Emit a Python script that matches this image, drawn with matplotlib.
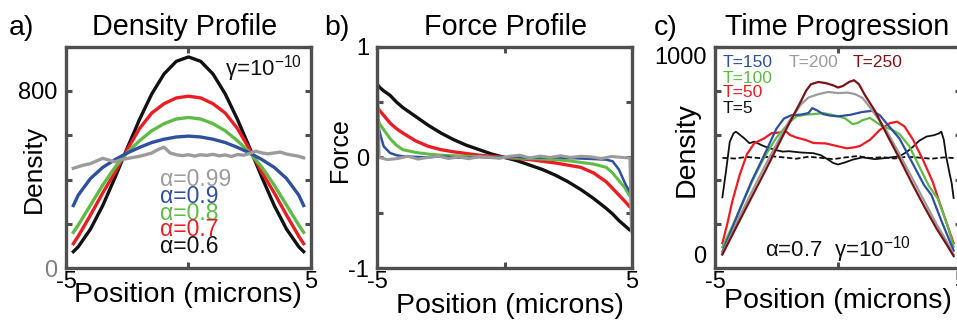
import matplotlib
matplotlib.use("Agg")
import matplotlib.pyplot as plt

W, H = 957, 320

# ---- panel a: density profiles for different alpha ----
xa = [-4.7, -4.5, -4.0, -3.5, -3.0, -2.5, -2.0, -1.5, -1.0, -0.5, 0.0,
      0.5, 1.0, 1.5, 2.0, 2.5, 3.0, 3.5, 4.0, 4.5, 4.7]
dens_06 = [75, 97, 177, 283, 409, 542, 671, 786, 876, 933, 953,
           933, 876, 786, 671, 542, 409, 283, 177, 97, 75]
dens_07 = [111, 145, 240, 340, 432, 535, 630, 700, 742, 768, 776,
           768, 742, 700, 630, 535, 432, 340, 240, 145, 111]
dens_08 = [162, 195, 285, 375, 455, 522, 575, 620, 652, 673, 680,
           673, 652, 620, 575, 522, 455, 375, 285, 195, 162]
dens_09 = [283, 330, 405, 455, 490, 520, 545, 567, 582, 592, 596,
           592, 582, 567, 545, 520, 490, 455, 405, 330, 283]
xa_noisy = [-4.7, -4.5, -4.25, -4.0, -3.75, -3.5, -3.25, -3.0, -2.75, -2.5,
            -2.25, -2.0, -1.75, -1.5, -1.25, -1.0, -0.75, -0.5, -0.25, 0.0,
            0.25, 0.5, 0.75, 1.0, 1.25, 1.5, 1.75, 2.0, 2.25, 2.5,
            2.75, 3.0, 3.25, 3.5, 3.75, 4.0, 4.25, 4.5, 4.7]
dens_099 = [451, 458, 466, 472, 484, 496, 488, 480, 490, 495,
            500, 505, 512, 520, 535, 546, 520, 512, 508, 512,
            506, 512, 509, 514, 507, 511, 504, 513, 510, 518,
            528, 520, 516, 520, 524, 515, 510, 505, 498]
alpha_labels = ["α=0.99", "α=0.9", "α=0.8", "α=0.7", "α=0.6"]

# ---- panel b: force profiles ----
xb = [-4.97, -4.9, -4.75, -4.5, -4.25, -4.0, -3.5, -3.0, -2.5, -2.0, -1.5,
      -1.0, -0.5, 0.0, 0.5, 1.0, 1.5, 2.0, 2.5, 3.0, 3.5, 4.0, 4.25, 4.5,
      4.75, 4.9, 4.97]
force_06 = [0.65, 0.63, 0.60, 0.56, 0.50, 0.45, 0.37, 0.29, 0.22, 0.16, 0.11,
            0.07, 0.03, 0.0, -0.03, -0.07, -0.11, -0.16, -0.22, -0.29, -0.37,
            -0.46, -0.51, -0.57, -0.62, -0.65, -0.66]
force_07 = [0.44, 0.42, 0.38, 0.31, 0.26, 0.22, 0.15, 0.10, 0.07, 0.05, 0.035,
            0.02, 0.01, 0.0, -0.01, -0.02, -0.035, -0.05, -0.07, -0.09, -0.14,
            -0.22, -0.28, -0.34, -0.40, -0.44, -0.45]
force_08 = [0.34, 0.30, 0.25, 0.17, 0.11, 0.07, 0.045, 0.03, 0.02, 0.015, 0.01,
            0.005, 0.0, 0.0, -0.005, -0.01, -0.015, -0.02, -0.03, -0.045, -0.06,
            -0.09, -0.14, -0.21, -0.28, -0.34, -0.36]
force_09 = [0.30, 0.22, 0.10, 0.04, 0.02, 0.01, 0.005, 0.0, 0.01, 0.0, -0.005,
            0.005, 0.0, 0.0, 0.005, -0.005, 0.0, 0.0, -0.005, -0.01, -0.015,
            -0.02, -0.035, -0.11, -0.24, -0.30, -0.33]
xb_noisy = [-4.99, -4.93, -4.6, -4.2, -3.8, -3.4, -3.0, -2.6, -2.2, -1.8, -1.4,
            -1.0, -0.6, -0.2, 0.2, 0.6, 1.0, 1.4, 1.8, 2.2, 2.6, 3.0, 3.4, 3.8,
            4.2, 4.6, 4.93, 4.99]
force_099 = [0.65, 0.0, -0.02, -0.01, 0.01, -0.015, 0.0, 0.012, -0.01, 0.005,
             -0.012, 0.008, 0.0, -0.008, 0.01, 0.02, -0.005, 0.012, 0.0, 0.015,
             0.0, 0.01, 0.005, -0.01, 0.008, 0.0, -0.005, -0.66]

# ---- panel c: time progression, alpha=0.7 ----
x_t250 = [-4.7, -4.0, -3.0, -2.0, -1.5, -1.3, -1.1, -0.8, -0.5, -0.2, 0.0, 0.2,
          0.45, 0.65, 0.85, 1.1, 1.5, 2.0, 2.5, 3.0, 3.5, 4.0, 4.4, 4.7]
d_t250 = [62, 215, 430, 650, 755, 800, 830, 840, 835, 825, 815, 822,
          840, 848, 830, 780, 710, 600, 495, 385, 280, 180, 110, 55]
x_t200 = [-4.7, -4.3, -4.0, -3.5, -3.0, -2.5, -2.0, -1.5, -1.2, -0.8, -0.4, 0.0,
          0.4, 0.7, 1.0, 1.3, 1.6, 2.0, 2.5, 3.0, 3.5, 4.0, 4.4, 4.7]
d_t200 = [68, 160, 235, 345, 455, 560, 660, 740, 770, 785, 795, 790,
          792, 785, 768, 725, 680, 615, 515, 410, 305, 200, 125, 62]
x_t150 = [-4.7, -4.3, -4.0, -3.5, -3.0, -2.5, -2.2, -1.9, -1.5, -1.2, -1.05,
          -0.85, -0.6, -0.3, 0.0, 0.5, 1.0, 1.4, 1.7, 2.0, 2.5, 3.0, 3.5, 3.8,
          4.2, 4.7]
d_t150 = [75, 180, 265, 395, 510, 630, 675, 690, 693, 700, 722,
          712, 695, 688, 685, 692, 705, 710, 690, 650, 585, 480, 375, 330,
          215, 80]
x_t100 = [-4.7, -4.3, -4.0, -3.5, -3.0, -2.5, -2.0, -1.7, -1.3, -1.0, -0.6,
          -0.3, 0.0, 0.3, 0.6, 0.8, 1.0, 1.3, 1.6, 1.8, 2.2, 2.5, 2.9, 3.3,
          3.7, 4.05, 4.4, 4.7]
d_t100 = [95, 190, 262, 390, 500, 590, 655, 685, 693, 695, 700,
          693, 686, 675, 650, 655, 668, 678, 655, 640, 625, 605, 550, 460,
          370, 315, 210, 98]
x_t50 = [-4.7, -4.5, -4.3, -4.0, -3.7, -3.4, -3.0, -2.7, -2.4, -2.1, -1.95,
         -1.7, -1.3, -1.0, -0.5, 0.0, 0.35, 0.7, 0.9, 1.3, 1.7, 2.1, 2.4, 2.7,
         3.05, 3.45, 3.85, 4.15, 4.42, 4.7]
d_t50 = [113, 200, 300, 420, 515, 564, 586, 609, 612, 616, 601,
         590, 578, 565, 563, 550, 541, 546, 552, 579, 624, 654, 661, 640,
         580, 490, 390, 290, 203, 113]
x_t5 = [-4.7, -4.55, -4.4, -4.25, -4.15, -4.0, -3.8, -3.6, -3.4, -3.2, -3.0,
        -2.6, -2.25, -2.0, -1.5, -1.0, -0.7, -0.4, -0.2, 0.0, 0.3, 0.6, 1.0,
        1.5, 2.0, 2.5, 2.8, 3.06, 3.3, 3.6, 3.9, 4.1, 4.2, 4.3, 4.4, 4.55,
        4.62, 4.7]
d_t5 = [320, 440, 570, 608, 616, 603, 585, 564, 571, 560, 550,
        535, 526, 528, 522, 519, 510, 490, 475, 468, 478, 490, 500,
        492, 498, 505, 525, 549, 575, 594, 600, 608, 616, 580, 503, 420,
        385, 317]
x_t0 = [-4.7, -4.2, -3.7, -3.2, -2.7, -2.2, -1.7, -1.2, -0.7, -0.2, 0.3, 0.8,
        1.3, 1.8, 2.3, 2.8, 3.3, 3.8, 4.3, 4.7]
d_t0 = [498, 495, 502, 497, 505, 500, 494, 503, 498, 492, 500, 506,
        497, 501, 495, 503, 499, 494, 500, 497]
time_labels = ["T=150", "T=200", "T=250", "T=100", "T=50", "T=5"]

BLACK = "#111111"
RED = "#ec1c24"
GREEN = "#5fbb46"
BLUE = "#2f4f9f"
GRAY = "#9b9b9b"
DARKRED = "#7b1315"
SPINE = "#4f4f4f"


def px(x, y):
    return x / W, 1 - y / H


def style_axes(ax, tick_size):
    for s in ax.spines.values():
        s.set_linewidth(2.4)
        s.set_color(SPINE)
    ax.tick_params(direction="in", length=4, width=2.2, color=SPINE,
                   top=True, right=True, labelsize=tick_size, pad=2)
    ax.tick_params(axis="y", pad=6)


def main():
    plt.rcParams["font.family"] = ["Liberation Sans", "DejaVu Sans"]
    plt.rcParams["mathtext.default"] = "regular"
    fig = plt.figure(figsize=(W / 100, H / 100), dpi=100)

    bottom = (H - 268.3) / H
    height = 221.8 / H
    ax_a = fig.add_axes([66 / W, bottom, 245 / W, height])
    ax_b = fig.add_axes([377.3 / W, bottom, 254.4 / W, height])
    ax_c = fig.add_axes([715 / W, bottom, 246 / W, height])

    # a) Density profile
    ax_a.plot(xa, dens_06, color=BLACK, lw=2.4)
    ax_a.plot(xa, dens_07, color=RED, lw=2.4)
    ax_a.plot(xa, dens_08, color=GREEN, lw=2.4)
    ax_a.plot(xa, dens_09, color=BLUE, lw=2.4)
    ax_a.plot(xa_noisy, dens_099, color=GRAY, lw=2.4)
    ax_a.set_xlim(-5, 5)
    ax_a.set_ylim(0, 1000)
    ax_a.set_xticks([-5, 0, 5], ["-5", "", "5"])
    ax_a.set_yticks([0, 200, 400, 600, 800, 1000],
                    ["0", "", "", "", "800", ""])
    style_axes(ax_a, 17)
    ax_a.get_yticklabels()[0].set_color("#808080")
    for lab, col, yb in zip(alpha_labels, [GRAY, BLUE, GREEN, RED, BLACK],
                            [186.5, 203, 220, 236.5, 253]):
        fig.text(*px(160, yb), lab, color=col, fontsize=16.5, va="baseline")
    fig.text(*px(302, 75), "γ=10$^{-10}$", fontsize=16, ha="right",
             va="baseline", color=BLACK)

    # b) Force profile
    ax_b.plot(xb, force_06, color=BLACK, lw=2.4)
    ax_b.plot(xb, force_07, color=RED, lw=2.4)
    ax_b.plot(xb, force_08, color=GREEN, lw=2.2)
    ax_b.plot(xb, force_09, color=BLUE, lw=1.8)
    ax_b.plot(xb_noisy, force_099, color=GRAY, lw=2.2)
    ax_b.set_xlim(-5, 5)
    ax_b.set_ylim(-1, 1)
    ax_b.set_xticks([-5, 0, 5], ["-5", "", "5"])
    ax_b.set_yticks([-1, -0.5, 0, 0.5, 1], ["-1", "", "0", "", "1"])
    style_axes(ax_b, 17)

    # c) Time progression
    ax_c.plot(x_t0, d_t0, color=BLACK, lw=1.3, dashes=(3, 1.5))
    ax_c.plot(x_t5, d_t5, color=BLACK, lw=1.3)
    ax_c.plot(x_t50, d_t50, color=RED, lw=1.6)
    ax_c.plot(x_t100, d_t100, color=GREEN, lw=1.6)
    ax_c.plot(x_t150, d_t150, color=BLUE, lw=1.6)
    ax_c.plot(x_t200, d_t200, color=GRAY, lw=1.6)
    ax_c.plot(x_t250, d_t250, color=DARKRED, lw=1.6)
    ax_c.set_xlim(-5, 5)
    ax_c.set_ylim(0, 1000)
    ax_c.set_xticks([-5, 0, 5], ["-5", "", "5"])
    ax_c.set_yticks([0, 200, 400, 600, 800, 1000],
                    ["0", "", "", "", "", "1000"])
    style_axes(ax_c, 17)
    ylabs = ax_c.get_yticklabels()
    ylabs[0].set_va("bottom")
    ylabs[-1].set_va("top")
    for lab, col, xx, yb in zip(time_labels,
                                [BLUE, GRAY, DARKRED, GREEN, RED, BLACK],
                                [723, 789, 853, 723, 723, 723],
                                [67.3, 67.3, 67.3, 82.7, 97.3, 112.7]):
        fig.text(*px(xx, yb), lab, color=col, fontsize=12.5, va="baseline")
    fig.text(*px(765, 256.5), "α=0.7  γ=10$^{-10}$", fontsize=16,
             va="baseline", color=BLACK)

    # titles, panel letters, axis labels
    for letter, lx, title, tx in [("a)", 9, "Density Profile", 185),
                                  ("b)", 324, "Force Profile", 506),
                                  ("c)", 654, "Time Progression", 837)]:
        fig.text(*px(lx, 35), letter, fontsize=20.5, va="baseline")
        fig.text(*px(tx, 35), title, fontsize=20.7, ha="center",
                 va="baseline")

    for ax, cx, top in [(ax_a, 187.5, 282), (ax_b, 510, 293),
                        (ax_c, 837.5, 288)]:
        ax.set_xlabel("Position (microns)", fontsize=20.5)
        ax.xaxis.set_label_coords(*px(cx, top), transform=fig.transFigure)

    for ax, lab, size, rx, cy in [(ax_a, "Density", 19, 46, 169),
                                  (ax_b, "Force", 18, 352, 150),
                                  (ax_c, "Density", 20.5, 700, 149.5)]:
        ax.set_ylabel(lab, fontsize=size)
        ax.yaxis.set_label_coords(*px(rx, cy), transform=fig.transFigure)

    fig.savefig("out.png", dpi=100)


if __name__ == "__main__":
    main()
